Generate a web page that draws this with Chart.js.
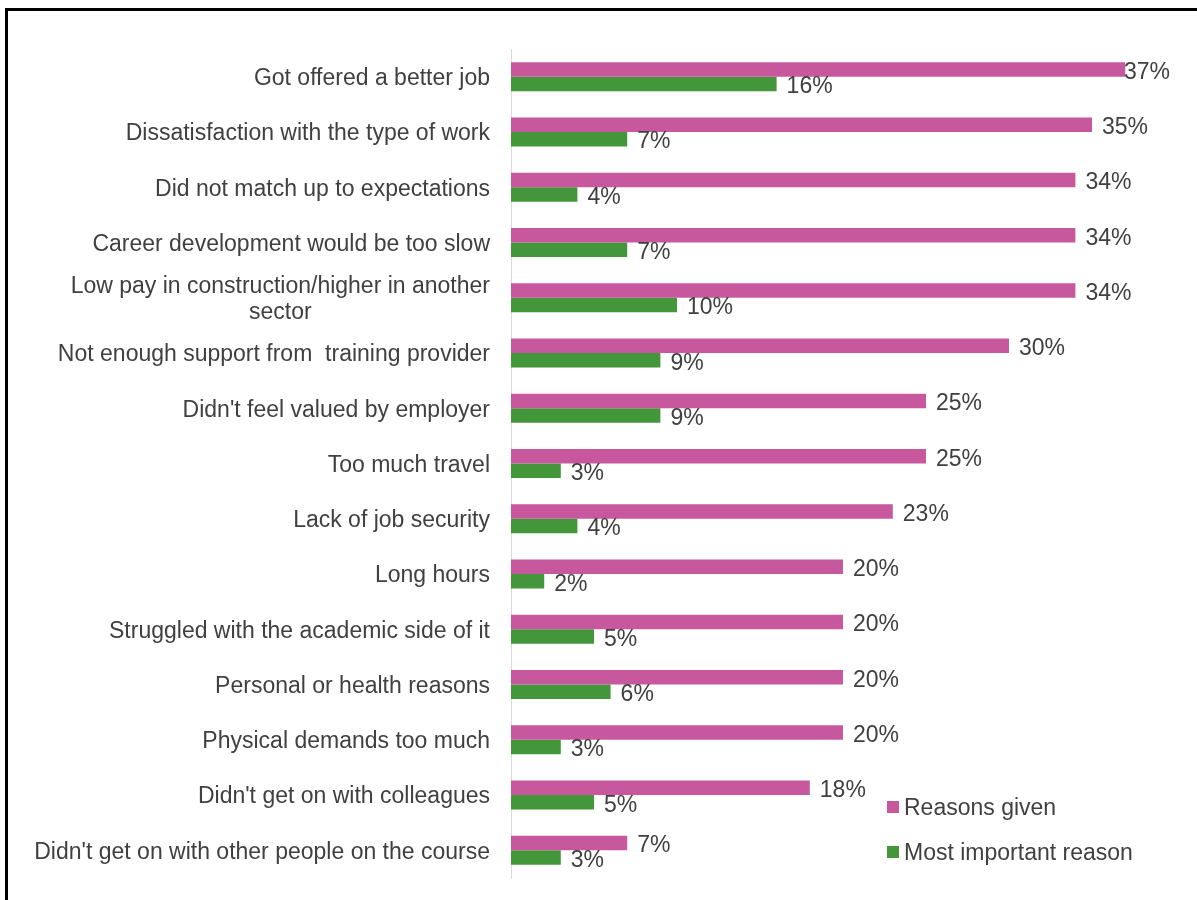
<!DOCTYPE html>
<html>
<head>
<meta charset="utf-8">
<script src="https://cdn.jsdelivr.net/npm/chart.js@4.4.1/dist/chart.umd.min.js"></script>
<style>
  html, body { margin: 0; padding: 0; background: #fff; overflow: hidden; }
  #wrap { position: relative; width: 1197px; height: 900px; }
  #frame { position: absolute; left: 5px; top: 8px; width: 1300px; height: 1000px;
           border-left: 3px solid #000; border-top: 3px solid #000; pointer-events: none; }
  canvas { position: absolute; left: 0; top: 0; }
</style>
</head>
<body>
<div id="wrap">
  <canvas id="c" width="1197" height="900"></canvas>
  <div id="frame"></div>
</div>
<script>
// Reasons for leaving, share of respondents (%)
const categories = [
  ["Got offered a better job"],
  ["Dissatisfaction with the type of work"],
  ["Did not match up to expectations"],
  ["Career development would be too slow"],
  ["Low pay in construction/higher in another", "sector"],
  ["Not enough support from  training provider"],
  ["Didn't feel valued by employer"],
  ["Too much travel"],
  ["Lack of job security"],
  ["Long hours"],
  ["Struggled with the academic side of it"],
  ["Personal or health reasons"],
  ["Physical demands too much"],
  ["Didn't get on with colleagues"],
  ["Didn't get on with other people on the course"]
];
const reasonsGiven = [37, 35, 34, 34, 34, 30, 25, 25, 23, 20, 20, 20, 20, 18, 7];
const mostImportant = [16, 7, 4, 7, 10, 9, 9, 3, 4, 2, 5, 6, 3, 5, 3];
const seriesNames = ["Reasons given", "Most important reason"];
const seriesColors = ["#C8589E", "#43963A"];

const FONT = '"Liberation Sans", Arial, sans-serif';
const FONT_SIZE = 23;
const TEXT = "#404040";

// Category names to the left of the axis (multi-line names centred on their block)
const categoryLabels = {
  id: "categoryLabels",
  afterDraw(chart) {
    const { ctx, scales: { y } } = chart;
    ctx.save();
    ctx.font = FONT_SIZE + "px " + FONT;
    ctx.fillStyle = TEXT;
    ctx.textBaseline = "middle";
    ctx.textAlign = "center";
    const rightX = chart.chartArea.left - 21;
    const lh = 26;
    categories.forEach((lines, i) => {
      const cy = y.getPixelForValue(i) + 2;
      const top = cy - (lines.length - 1) * lh / 2;
      const block = Math.max(...lines.map(l => ctx.measureText(l).width));
      lines.forEach((l, k) => {
        ctx.fillText(l, rightX - block / 2, top + k * lh);
      });
    });
    ctx.restore();
  }
};

// Percentage labels at the end of each bar, kept inside the plot area
const valueLabels = {
  id: "valueLabels",
  afterDatasetsDraw(chart) {
    const { ctx, chartArea } = chart;
    ctx.save();
    ctx.font = FONT_SIZE + "px " + FONT;
    ctx.fillStyle = TEXT;
    ctx.textBaseline = "middle";
    ctx.textAlign = "left";
    chart.data.datasets.forEach((ds, di) => {
      chart.getDatasetMeta(di).data.forEach((bar, i) => {
        const txt = ds.data[i] + "%";
        const w = ctx.measureText(txt).width;
        let x = bar.x + 10;
        if (x + w > chartArea.right - 5) x = chartArea.right - 5 - w;
        ctx.fillText(txt, x, bar.y + 3);
      });
    });
    ctx.restore();
  }
};

// Legend placed inside the lower right of the plot
const innerLegend = {
  id: "innerLegend",
  afterDraw(chart) {
    const { ctx, chartArea } = chart;
    ctx.save();
    ctx.font = FONT_SIZE + "px " + FONT;
    ctx.textBaseline = "middle";
    ctx.textAlign = "left";
    const x0 = chartArea.left + 376;
    const y0 = chartArea.bottom - 71;
    chart.data.datasets.forEach((ds, i) => {
      const yy = y0 + i * 45;
      ctx.fillStyle = ds.backgroundColor;
      ctx.fillRect(x0, yy - 6, 12, 12);
      ctx.fillStyle = TEXT;
      ctx.fillText(ds.label, x0 + 17, yy + 2);
    });
    ctx.restore();
  }
};

new Chart(document.getElementById("c"), {
  type: "bar",
  data: {
    labels: categories.map(c => c.join(" ")),
    datasets: [
      { label: seriesNames[0], data: reasonsGiven, backgroundColor: seriesColors[0] },
      { label: seriesNames[1], data: mostImportant, backgroundColor: seriesColors[1] }
    ]
  },
  options: {
    indexAxis: "y",
    responsive: false,
    animation: false,
    devicePixelRatio: 1,
    layout: { padding: { top: 49, right: 22, bottom: 22, left: 0 } },
    datasets: { bar: { categoryPercentage: 0.525, barPercentage: 1.0, borderWidth: 0 } },
    plugins: { legend: { display: false }, tooltip: { enabled: false } },
    scales: {
      x: { display: false, min: 0, max: 40 },
      y: {
        display: true,
        grid: { display: false },
        border: { display: true, color: "#D9D9D9", width: 1 },
        ticks: { display: false },
        afterFit(scale) { scale.width = 511; }
      }
    }
  },
  plugins: [categoryLabels, valueLabels, innerLegend]
});
</script>
</body>
</html>
